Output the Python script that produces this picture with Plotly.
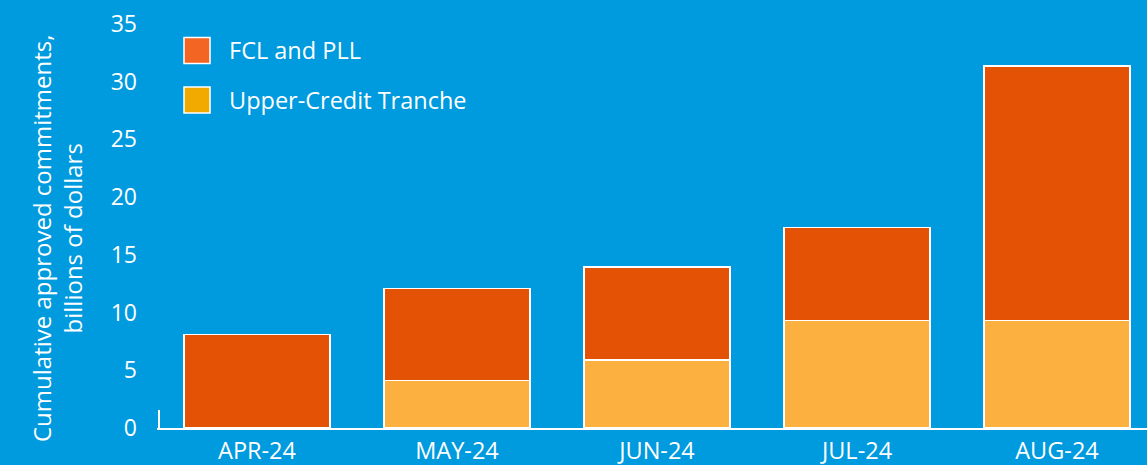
import plotly.graph_objects as go

categories = ["APR-24", "MAY-24", "JUN-24", "JUL-24", "AUG-24"]
upper_credit = [0, 4.1, 5.9, 9.3, 9.3]
fcl_pll = [8.1, 8.0, 8.05, 8.05, 22.05]
y_ticks = [0, 5, 10, 15, 20, 25, 30, 35]
legend_names = ["FCL and PLL", "Upper-Credit Tranche"]

BG = "#009ADE"
ORANGE = "#E35205"
YELLOW = "#FBB040"
LEG_ORANGE = "#F26522"
LEG_YELLOW = "#F2A900"
FONT = "Open Sans"

fig = go.Figure()
fig.add_trace(go.Bar(x=categories, y=upper_credit, name=legend_names[1],
                     marker=dict(color=YELLOW, line=dict(color="white", width=1.5)),
                     width=0.73, showlegend=False))
fig.add_trace(go.Bar(x=categories, y=fcl_pll, name=legend_names[0],
                     marker=dict(color=ORANGE, line=dict(color="white", width=1.5)),
                     width=0.73, showlegend=False))

W, H = 1147, 465
L, R, T, B = 157, 0, 24, 37
pw = W - L - R
ph = H - T - B

def px_x(x):
    return (x - L) / pw

def px_y(y):
    return (H - B - y) / ph

# legend drawn manually
for i, (nm, col) in enumerate(zip(legend_names, [LEG_ORANGE, LEG_YELLOW])):
    cy = 50.5 + i * 49.5
    fig.add_shape(type="rect", xref="paper", yref="paper",
                  x0=px_x(184), x1=px_x(210), y0=px_y(cy + 13), y1=px_y(cy - 13),
                  fillcolor=col, line=dict(color="white", width=1.5))
    fig.add_annotation(xref="paper", yref="paper", x=px_x(227), y=px_y(cy),
                       text=nm, showarrow=False, xanchor="left", yanchor="middle",
                       font=dict(family=FONT, size=23.5, color="white"))

# y-axis title
fig.add_annotation(xref="paper", yref="paper", x=px_x(57), y=px_y(239),
                   text="Cumulative approved commitments,<br>billions of dollars",
                   textangle=-90, showarrow=False, xanchor="center", yanchor="middle",
                   font=dict(family=FONT, size=24, color="white"))

# small y-axis stub
fig.add_shape(type="line", xref="paper", yref="paper",
              x0=px_x(159), x1=px_x(159), y0=0, y1=px_y(410),
              line=dict(color="white", width=2))

fig.update_layout(
    width=W, height=H,
    margin=dict(l=L, r=R, t=T, b=B),
    paper_bgcolor=BG, plot_bgcolor=BG,
    barmode="stack",
    font=dict(family=FONT, color="white", size=20),
    xaxis=dict(range=[-0.5, 4.45], showgrid=False, zeroline=False,
               showline=True, linecolor="white", linewidth=2,
               tickfont=dict(family=FONT, size=23.5, color="white"),
               ticks="", ticklabelstandoff=1),
    yaxis=dict(range=[0, 35], tickvals=y_ticks, showgrid=False, zeroline=False,
               showline=False, tickfont=dict(family=FONT, size=23, color="white"),
               ticks="", ticklabelstandoff=19),
)

fig.write_html("out.html", config={"displayModeBar": False},
               post_script="document.body.style.margin='0';document.body.style.overflow='hidden';")
